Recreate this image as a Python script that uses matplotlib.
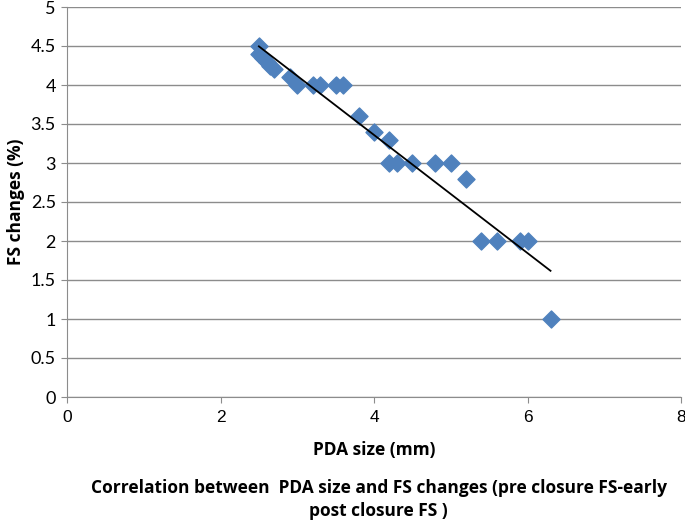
import numpy as np
import matplotlib.pyplot as plt

plt.rcParams['font.family'] = ['Lato', 'DejaVu Sans']

pda_size = [2.5, 2.5, 2.55, 2.6, 2.65, 2.7, 2.9, 3.0, 3.2, 3.3, 3.5, 3.6,
            3.8, 4.0, 4.2, 4.2, 4.3, 4.5, 4.8, 5.0, 5.2, 5.4, 5.6, 5.9, 6.0, 6.3]
fs_change = [4.5, 4.4, 4.35, 4.3, 4.25, 4.2, 4.1, 4.0, 4.0, 4.0, 4.0, 4.0,
             3.6, 3.4, 3.3, 3.0, 3.0, 3.0, 3.0, 3.0, 2.8, 2.0, 2.0, 2.0, 2.0, 1.0]

bold = dict(family=['Open Sans', 'DejaVu Sans'], fontweight='bold', fontsize=12.5)

fig = plt.figure(figsize=(6.85, 5.23), dpi=100)
ax = fig.add_axes([67 / 685, 1 - 397 / 523, 614 / 685, 390 / 523])

ax.scatter(pda_size, fs_change, marker='D', s=75, color='#4F81BD', zorder=3)

# linear trendline
slope, icpt = np.polyfit(pda_size, fs_change, 1)
xs = np.array([min(pda_size), max(pda_size)])
ax.plot(xs, slope * xs + icpt, color='black', lw=1.3, zorder=4)

ax.set_xlim(0, 8)
ax.set_ylim(0, 5)
ax.set_xticks(np.arange(0, 9, 2))
ax.set_yticks(np.arange(0, 5.1, 0.5))
ax.set_yticklabels(['0', '0.5', '1', '1.5', '2', '2.5', '3', '3.5', '4', '4.5', '5'])
ax.yaxis.grid(True, color='#8c8c8c', lw=1)
ax.set_axisbelow(True)
for s in ['top', 'right']:
    ax.spines[s].set_visible(False)
ax.spines['left'].set_color('#8c8c8c')
ax.spines['bottom'].set_color('#8c8c8c')
ax.tick_params(axis='both', color='#8c8c8c', length=4)
ax.tick_params(axis='x', labelsize=13, pad=5)
ax.tick_params(axis='y', labelsize=13, pad=4)
for lbl in ax.get_xticklabels():
    lbl.set_family('Liberation Sans')
    lbl.set_fontsize(12.5)

ax.set_xlabel('PDA size (mm)', labelpad=12, **bold)
ax.set_ylabel('FS changes (%)', labelpad=4, **bold)

fig.text(0.553, 0.045, 'Correlation between  PDA size and FS changes (pre closure FS-early\npost closure FS )',
         ha='center', va='center', linespacing=1.3, **bold)

fig.savefig('out.png', dpi=100)
